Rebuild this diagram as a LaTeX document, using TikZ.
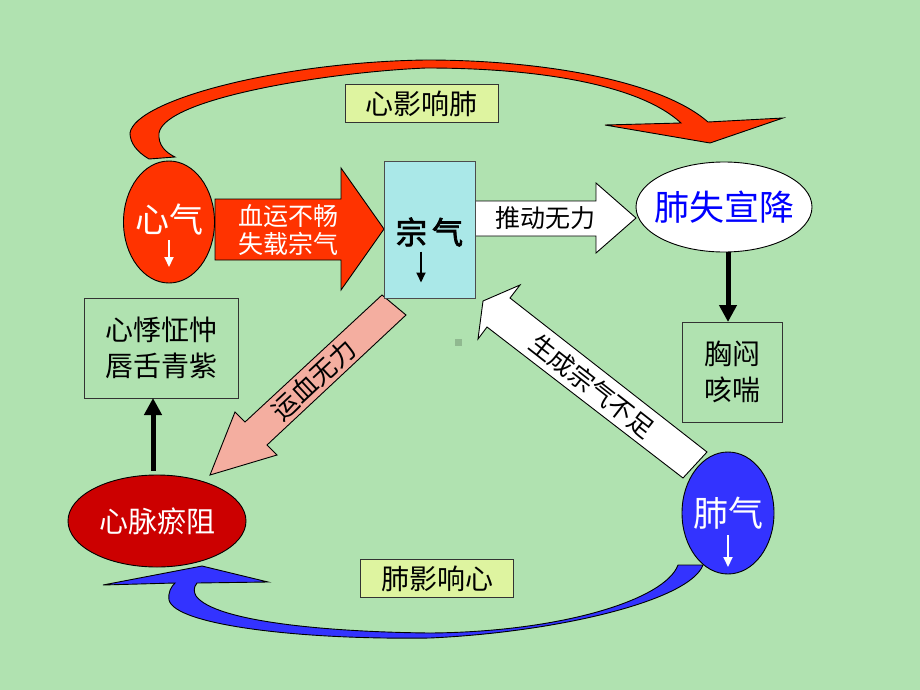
\documentclass[tikz,border=0pt]{standalone}
\usepackage{fontspec}
\newfontfamily\cjk{Noto Sans CJK SC}
\newfontfamily\cjkbold[FakeBold=2.5]{Noto Sans CJK SC}
\usepackage{tikz}
\usetikzlibrary{shapes.geometric,arrows.meta}
\definecolor{bg}{RGB}{176,226,176}
\definecolor{hotred}{RGB}{255,51,0}
\definecolor{darkred}{RGB}{204,0,0}
\definecolor{lungblue}{RGB}{51,51,255}
\definecolor{aqua}{RGB}{170,232,232}
\definecolor{salmon}{RGB}{244,174,160}
\definecolor{lemon}{RGB}{222,244,160}

\begin{document}
\begin{tikzpicture}[x=1pt,y=-1pt,
    every node/.style={font=\cjk, inner sep=0pt, outer sep=0pt},
    blob/.style={ellipse, draw=black, line width=0.9pt},
    tag/.style={draw=black!80, fill=lemon, line width=0.9pt,
        minimum width=153pt, minimum height=38pt,
        font=\cjk\fontsize{28}{30}\selectfont},
    plainbox/.style={draw=black!80, line width=0.9pt, align=center,
        font=\cjk\fontsize{28}{36}\selectfont},
    blk/.style={draw=black, line width=0.9pt, line join=miter},
    fat/.style={line width=5pt, -{Triangle[length=17pt,width=17pt]}},
    slim/.style={line width=2pt, -{Triangle[length=10pt,width=9pt]}}]

    \fill[bg] (0,0) rectangle (920,690);
    \useasboundingbox (0,0) rectangle (920,690);
    \fill[black!18!bg] (455,339) rectangle (462,346);

    % big curved arrows
    \draw[blk, fill=hotred] (149,159) .. controls (137,152) and (130,143) .. (130,133)
        .. controls (135,100) and (280,62) .. (426,60)
        .. controls (540,60) and (660,80) .. (708,122)
        -- (783,118) -- (710,143) -- (605,125) -- (681,123)
        .. controls (640,85) and (540,68) .. (426,68)
        .. controls (330,72) and (165,98) .. (159,133)
        .. controls (158,145) and (165,152) .. (175,157) -- cycle;
    \draw[blk, fill=lungblue] (703,565) .. controls (690,600) and (560,632) .. (430,638)
        .. controls (300,640) and (175,625) .. (169,600)
        .. controls (168,592) and (171,587) .. (175,583)
        -- (103,585) -- (202,566) -- (268,582) -- (197,583)
        .. controls (193,588) and (194,592) .. (196,596)
        .. controls (215,622) and (330,632) .. (430,633)
        .. controls (560,632) and (665,600) .. (678,565) -- cycle;

    % block arrows
    \draw[blk, fill=salmon] (382,295) -- (245,422) -- (235,412) -- (210,475)
        -- (277,455) -- (267,445) -- (406,315) -- cycle;
    \draw[blk, fill=white] (707,452) -- (510,298) -- (520,285) -- (483,301)
        -- (478,339) -- (487,327) -- (683,478) -- cycle;
    \draw[blk, fill=hotred] (215,199) -- (341,199) -- (341,168) -- (384,229)
        -- (341,290) -- (341,260) -- (215,260) -- cycle;
    \draw[blk, fill=white] (475,201) -- (596,201) -- (596,183) -- (636,218)
        -- (596,253) -- (596,236) -- (475,236) -- cycle;

    \node[blob, fill=hotred, minimum width=91pt, minimum height=122pt] (xinqi) at (169,222) {};
    \node[blob, fill=white, minimum width=176pt, minimum height=90pt] (feishi) at (724,207) {};
    \node[blob, fill=darkred, minimum width=178pt, minimum height=92pt] (xinmai) at (157,521) {};
    \node[blob, fill=lungblue, minimum width=92pt, minimum height=122pt] (feiqi) at (728,513) {};
    \node[draw=black!70, fill=aqua, line width=0.9pt,
        minimum width=91pt, minimum height=137pt] (zongqi) at (429.5,229.5) {};

    \node[tag] (xyf) at (421.5,103.5) {心影响肺};
    \node[tag] (fyx) at (437,578.5) {肺影响心};
    \node[plainbox, minimum width=154pt, minimum height=100pt] (xinji) at (161,348) {心悸怔忡\\唇舌青紫};
    \node[plainbox, minimum width=100pt, minimum height=100pt] (xiong) at (732,372) {胸闷\\咳喘};

    % texts on shapes
    \node[text=blue, font=\cjk\fontsize{35}{35}\selectfont] (feishi-t) at (feishi.center) {肺失宣降};
    \node[text=white, font=\cjk\fontsize{29}{29}\selectfont] (xinmai-t) at (xinmai.center) {心脉瘀阻};
    \node[text=white, font=\cjk\fontsize{34}{34}\selectfont] (xinqi-t) at ([yshift=2pt]xinqi.center) {心气};
    \node[text=white, font=\cjk\fontsize{35}{35}\selectfont] (feiqi-t) at (feiqi.center) {肺气};
    \node[font=\cjkbold\fontsize{31}{31}\selectfont] (zongqi-t) at ([yshift=-2.5pt]zongqi.center) {宗\,气};
    \node[text=white, align=center, font=\cjk\fontsize{25}{28}\selectfont] (xueyun) at (288,230) {血运不畅\\失载宗气};
    \node[font=\cjk\fontsize{25}{25}\selectfont] (tuidong) at (545,218) {推动无力};
    \node[rotate=43, font=\cjk\fontsize{26}{26}\selectfont] (yunxue) at (314,380) {运血无力};
    \node[rotate=-38, font=\cjk\fontsize{25}{25}\selectfont] (shengcheng) at (592,386) {生成宗气不足};

    % arrows
    \draw[slim, white] ([yshift=-18pt]xinqi.center) -- ([yshift=-45pt]xinqi.center);
    \draw[slim, white] ([yshift=-22pt]feiqi.center) -- ([yshift=-54pt]feiqi.center);
    \draw[slim] ([xshift=-8.5pt,yshift=-22pt]zongqi.center) -- ([xshift=-8.5pt,yshift=-53pt]zongqi.center);
    \draw[fat] ([xshift=4pt]feishi.south) -- ([xshift=-4pt]xiong.north);
    \draw[fat] ([xshift=-4pt,yshift=4pt]xinmai.north) -- ([xshift=-8pt]xinji.south);

\end{tikzpicture}
\end{document}
